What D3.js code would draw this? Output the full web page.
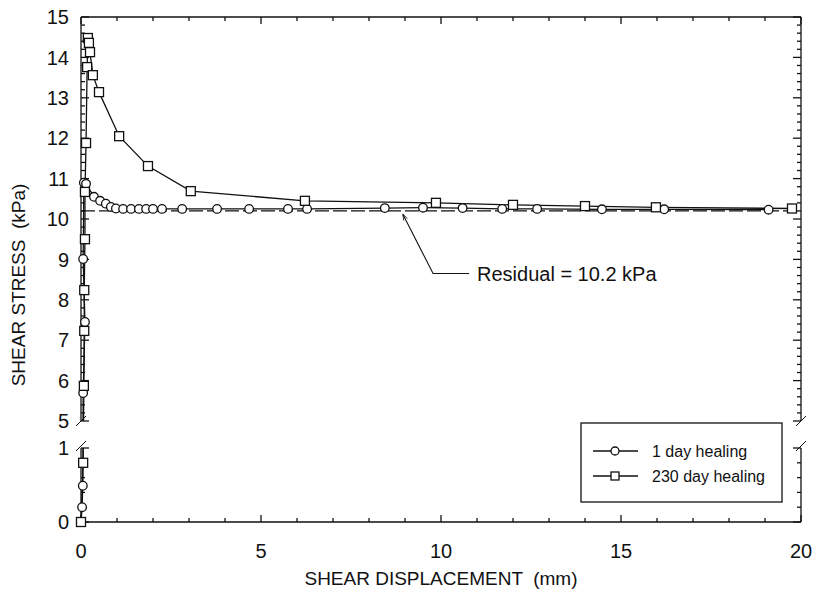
<!DOCTYPE html>
<html lang="en">
<head>
    <meta charset="UTF-8">
    <title>Shear stress vs displacement</title>
    <script src="https://d3js.org/d3.v7.min.js"></script>
</head>
<style>
    html,body {
        margin: 0;
        padding: 0;
        background: #fff;
    }
    text {
        font-family: "Liberation Sans", Arial, sans-serif;
        fill: #111;
    }
</style>
<body>
    <div id="svg"></div>
</body>
<script>
    // data
    const disp1 = [0, 0.03, 0.05, 0.06, 0.11, 0.06, 0.08, 0.14, 0.36, 0.53, 0.69, 0.83, 0.97, 1.17, 1.39, 1.61, 1.81, 2.0, 2.25, 2.81, 3.78, 4.67, 5.75, 6.28, 8.44, 9.5, 10.6, 11.7, 12.67, 14.47, 16.2, 19.1];
    const stress1 = [0, 0.2, 0.49, 5.69, 7.45, 9.01, 10.9, 10.87, 10.55, 10.45, 10.38, 10.3, 10.26, 10.25, 10.25, 10.25, 10.25, 10.25, 10.25, 10.25, 10.25, 10.25, 10.25, 10.25, 10.27, 10.28, 10.27, 10.25, 10.25, 10.24, 10.24, 10.23];

    const disp230 = [0, 0.06, 0.08, 0.09, 0.09, 0.11, 0.11, 0.14, 0.17, 0.19, 0.22, 0.25, 0.33, 0.5, 1.06, 1.86, 3.05, 6.22, 9.86, 12.0, 14.0, 15.97, 19.75];
    const stress230 = [0, 0.8, 5.87, 7.23, 8.24, 9.5, 10.67, 11.88, 13.76, 14.48, 14.36, 14.13, 13.56, 13.14, 12.05, 11.31, 10.69, 10.45, 10.4, 10.35, 10.32, 10.29, 10.26];

    const residual = 10.2;
    const xTicks = [0, 5, 10, 15, 20];
    const yTicksUpper = [5, 6, 7, 8, 9, 10, 11, 12, 13, 14, 15];
    const yTicksLower = [0, 1];
    const seriesNames = ['1 day healing', '230 day healing'];

    const width = 822;
    const height = 596;
    const pad = {left: 81, right: 801, top: 17, bottom: 522};
    const gapTop = 421, gapBottom = 448;

    const svg = d3.select('#svg').append('svg')
        .attr('width', width)
        .attr('height', height);

    const x = d3.scaleLinear().domain([0, 20]).range([pad.left, pad.right]);
    // broken axis: 0-1 at the bottom, 5-15 above, gap between
    const y = d3.scaleLinear().domain([0, 1, 5, 15]).range([pad.bottom, gapBottom, gapTop, pad.top]);

    // clip away the break
    const defs = svg.append('defs');
    const clip = defs.append('clipPath').attr('id', 'panels');
    clip.append('rect').attr('x', pad.left - 6).attr('y', pad.top).attr('width', pad.right - pad.left + 6).attr('height', gapTop - pad.top);
    clip.append('rect').attr('x', pad.left - 6).attr('y', gapBottom).attr('width', pad.right - pad.left + 6).attr('height', pad.bottom - gapBottom + 6);

    defs.append('marker')
        .attr('id', 'arrow')
        .attr('viewBox', '0 0 10 10')
        .attr('refX', 10).attr('refY', 5)
        .attr('markerWidth', 9).attr('markerHeight', 6)
        .attr('markerUnits', 'userSpaceOnUse')
        .attr('orient', 'auto')
        .append('path').attr('d', 'M0,1.5L10,5L0,8.5').attr('fill', 'none').attr('stroke', '#111').attr('stroke-width', 1.3);

    const ax = svg.append('g').attr('stroke', '#111').attr('stroke-width', 1.3).attr('fill', 'none');
    // frame
    ax.append('line').attr('x1', pad.left).attr('x2', pad.right).attr('y1', pad.top).attr('y2', pad.top);
    ax.append('line').attr('x1', pad.left).attr('x2', pad.right).attr('y1', pad.bottom).attr('y2', pad.bottom);
    [pad.left, pad.right].forEach(px => {
        ax.append('line').attr('x1', px).attr('x2', px).attr('y1', pad.top).attr('y2', gapTop);
        ax.append('line').attr('x1', px).attr('x2', px).attr('y1', gapBottom).attr('y2', pad.bottom);
        // break slashes
        [gapTop, gapBottom - 2].forEach(py => {
            ax.append('line').attr('x1', px - 5).attr('x2', px + 5).attr('y1', py + 5).attr('y2', py - 5)
                .attr('stroke-width', 1);
        });
    });

    // ticks, inward
    d3.range(0, 20.01, 1).forEach(v => {
        const len = v % 5 === 0 ? 7 : 4;
        ax.append('line').attr('x1', x(v)).attr('x2', x(v)).attr('y1', pad.bottom).attr('y2', pad.bottom - len);
        ax.append('line').attr('x1', x(v)).attr('x2', x(v)).attr('y1', pad.top).attr('y2', pad.top + len);
    });
    const yMinor = d3.range(0, 1.01, 0.2).concat(d3.range(5, 15.01, 0.2));
    yMinor.forEach(v => {
        const major = Math.abs(v - Math.round(v)) < 1e-6;
        const len = major ? 8 : 4;
        ax.append('line').attr('x1', pad.left).attr('x2', pad.left + len).attr('y1', y(v)).attr('y2', y(v));
        ax.append('line').attr('x1', pad.right).attr('x2', pad.right - len).attr('y1', y(v)).attr('y2', y(v));
    });

    // tick labels
    svg.selectAll('.xl').data(xTicks).enter().append('text')
        .attr('x', d => x(d)).attr('y', 558)
        .attr('text-anchor', 'middle').attr('font-size', '20px')
        .text(d => d);
    svg.selectAll('.yl').data(yTicksUpper.concat(yTicksLower)).enter().append('text')
        .attr('x', 69).attr('y', d => y(d)).attr('dy', '0.36em')
        .attr('text-anchor', 'end').attr('font-size', '20px')
        .text(d => d);

    // axis titles
    svg.append('text').attr('x', 441).attr('y', 585)
        .attr('text-anchor', 'middle').attr('font-size', '19px')
        .attr('xml:space', 'preserve')
        .text('SHEAR DISPLACEMENT  (mm)');
    svg.append('text')
        .attr('transform', 'translate(25,285) rotate(-90)')
        .attr('text-anchor', 'middle').attr('font-size', '19px')
        .attr('xml:space', 'preserve')
        .text('SHEAR STRESS  (kPa)');

    const plot = svg.append('g').attr('clip-path', 'url(#panels)');

    // residual line
    plot.append('line')
        .attr('x1', x(0)).attr('x2', x(19.75))
        .attr('y1', y(residual)).attr('y2', y(residual))
        .attr('stroke', '#111').attr('stroke-width', 1.1)
        .attr('stroke-dasharray', '14,4');

    const line = d3.line().x(d => x(d[0])).y(d => y(d[1]));
    const pts1 = disp1.map((d, i) => [d, stress1[i]]);
    const pts230 = disp230.map((d, i) => [d, stress230[i]]);

    [pts1, pts230].forEach(p => {
        plot.append('path').datum(p).attr('d', line)
            .attr('fill', 'none').attr('stroke', '#111').attr('stroke-width', 1.3);
    });

    plot.selectAll('.c1').data(pts1).enter().append('circle')
        .attr('cx', d => x(d[0])).attr('cy', d => y(d[1])).attr('r', 4.3)
        .attr('fill', '#fff').attr('stroke', '#111').attr('stroke-width', 1.3);
    plot.selectAll('.s230').data(pts230).enter().append('rect')
        .attr('x', d => x(d[0]) - 4.5).attr('y', d => y(d[1]) - 4.5)
        .attr('width', 9).attr('height', 9)
        .attr('fill', '#fff').attr('stroke', '#111').attr('stroke-width', 1.3);

    // annotation
    const ann = [[10.78, 8.65], [9.78, 8.65], [8.94, 10.12]];
    svg.append('path').datum(ann).attr('d', line)
        .attr('fill', 'none').attr('stroke', '#111').attr('stroke-width', 1.1)
        .attr('marker-end', 'url(#arrow)');
    svg.append('text').attr('x', x(11.0)).attr('y', y(8.65)).attr('dy', '0.36em')
        .attr('font-size', '20px')
        .text('Residual = ' + residual + ' kPa');

    // legend
    const lg = svg.append('g');
    lg.append('rect').attr('x', 581).attr('y', 423).attr('width', 201).attr('height', 79)
        .attr('fill', '#fff').attr('stroke', '#111').attr('stroke-width', 1.3);
    seriesNames.forEach((name, i) => {
        const ly = 451 + i * 25;
        lg.append('line').attr('x1', 593).attr('x2', 638).attr('y1', ly).attr('y2', ly)
            .attr('stroke', '#111').attr('stroke-width', 1.3);
        if (i === 0) {
            lg.append('circle').attr('cx', 615).attr('cy', ly).attr('r', 4)
                .attr('fill', '#fff').attr('stroke', '#111').attr('stroke-width', 1.3);
        } else {
            lg.append('rect').attr('x', 611).attr('y', ly - 4).attr('width', 8).attr('height', 8)
                .attr('fill', '#fff').attr('stroke', '#111').attr('stroke-width', 1.3);
        }
        lg.append('text').attr('x', 652).attr('y', ly).attr('dy', '0.36em')
            .attr('font-size', '16px').text(name);
    });
</script>
</html>
